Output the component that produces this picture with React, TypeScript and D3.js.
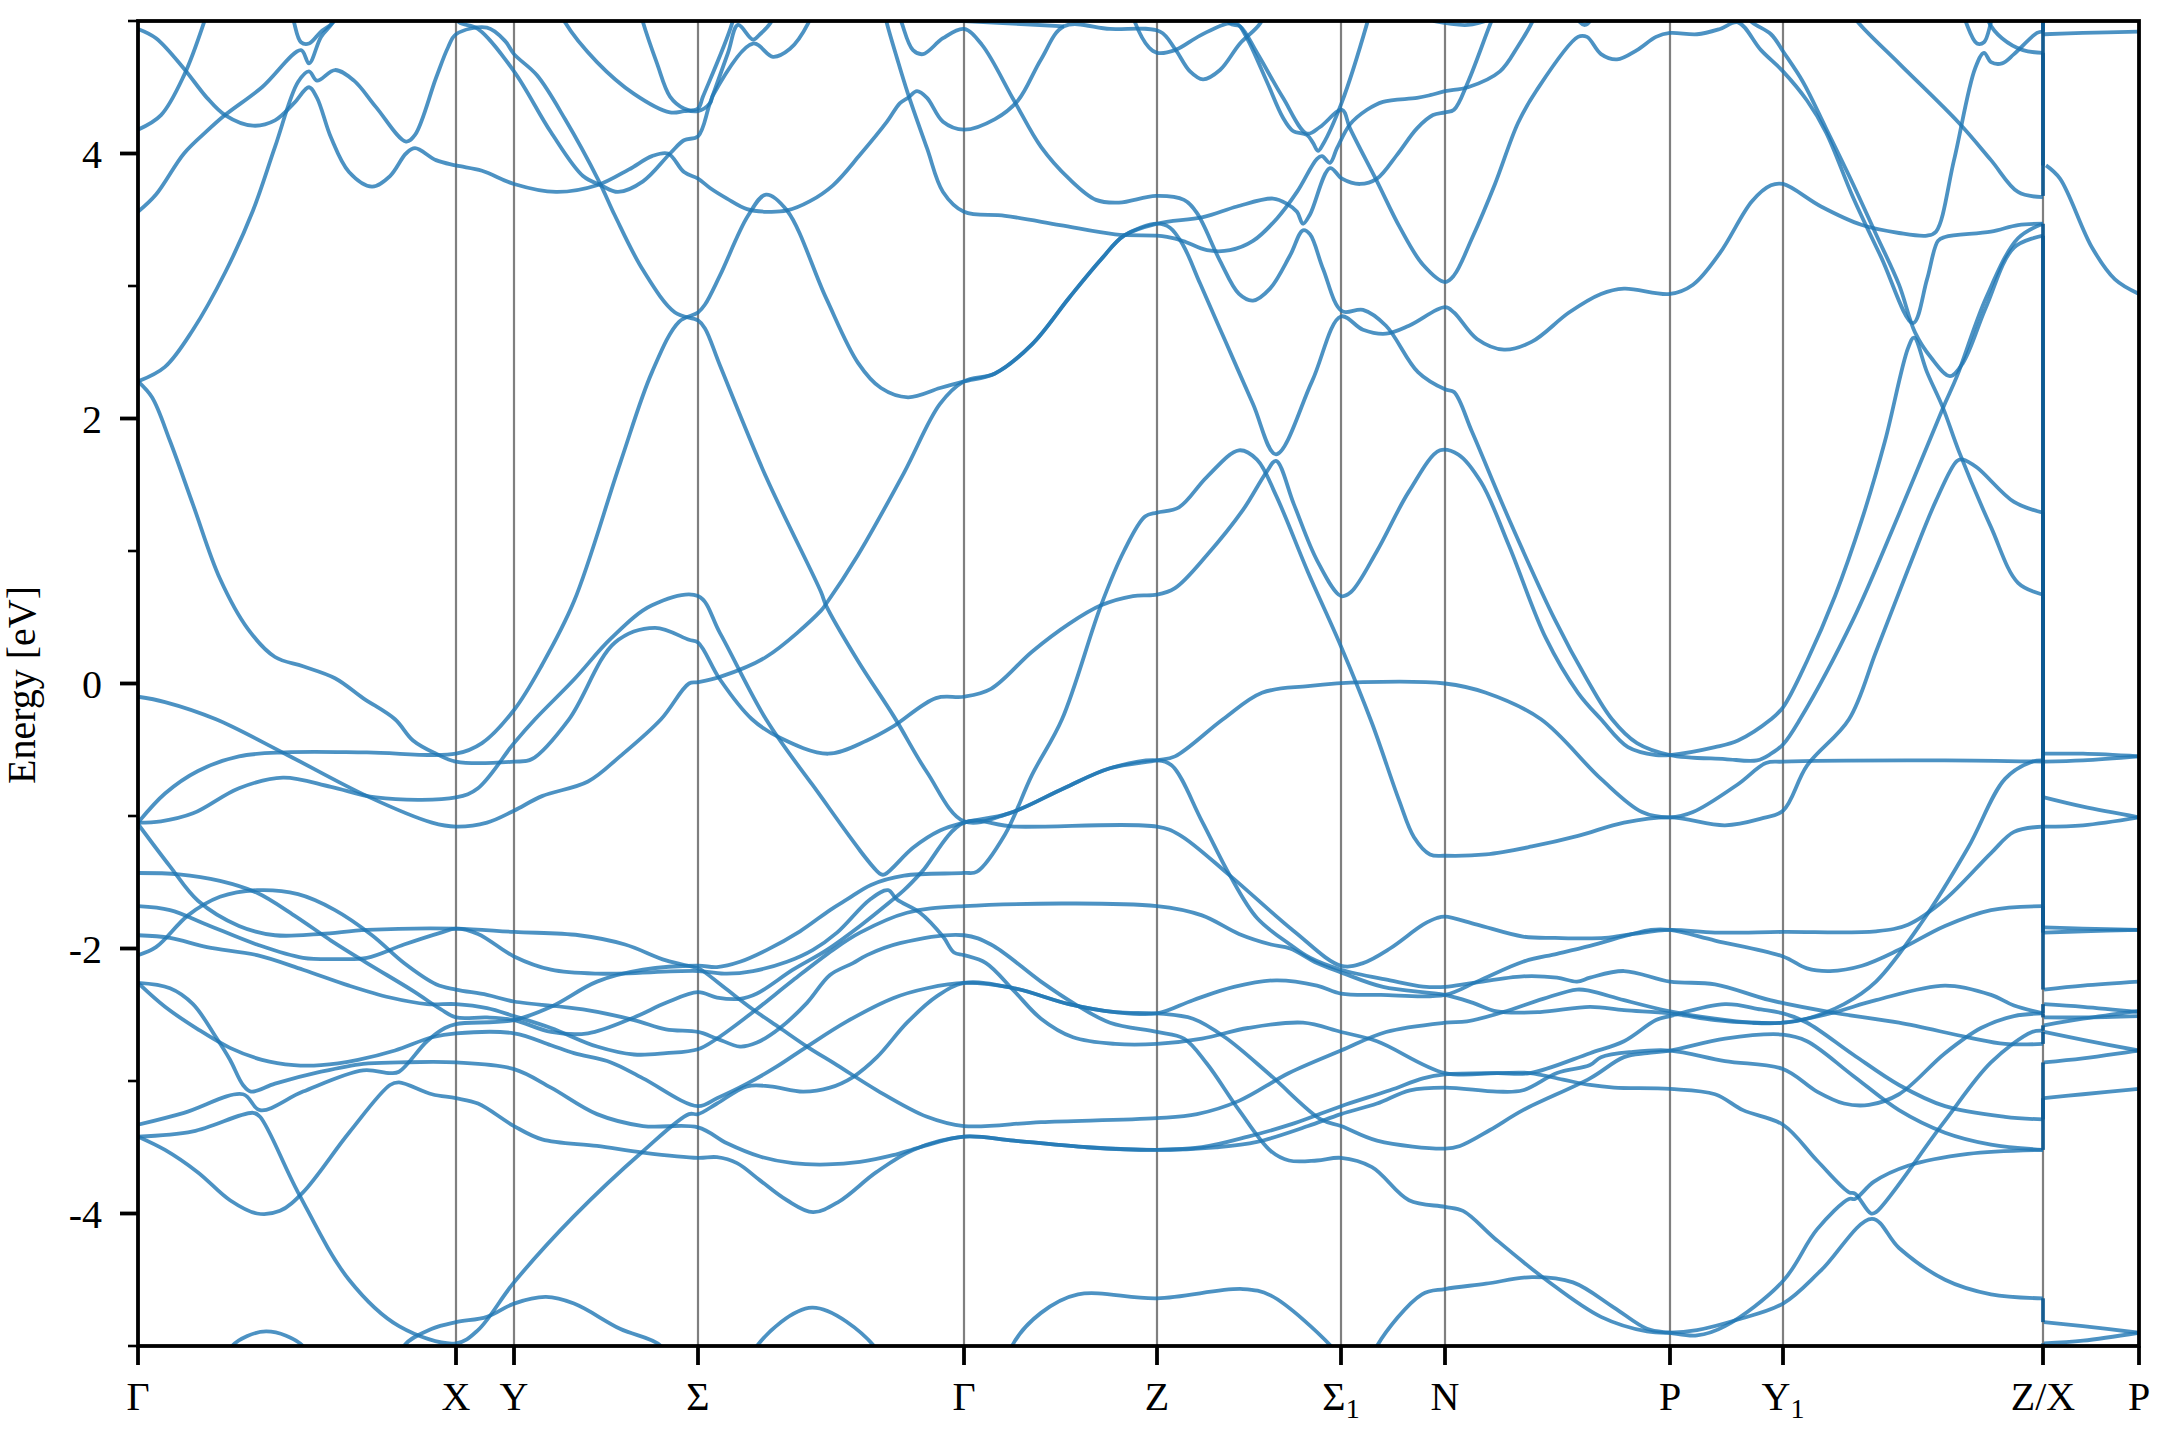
import React from "react";
import * as d3 from "d3";

type P = [number, number];
const kTicks = [0, 318, 376, 560, 826, 1019, 1203, 1307, 1532, 1645, 1905, 2001];
const kLabels = ["Γ", "X", "Y", "Σ", "Γ", "Z", "Σ|1", "N", "P", "Y|1", "Z/X", "P"];
const eMajor = [-4, -2, 0, 2, 4];
const eMinor = [-5, -3, -1, 1, 3, 5];

const band01: P[] = [[0,4.94],[18,4.87],[46,4.64],[69,4.42],[87,4.29],[115,4.21],[137,4.25],[156,4.38],[171,4.5],[179,4.42],[193,4.12],[211,3.86],[234,3.75],[252,3.83],[268,4],[277,4.04],[298,3.95],[318,3.91],[344,3.87],[376,3.77],[418,3.71],[459,3.76],[491,3.88],[514,3.98],[530,4],[546,3.86],[560,3.81],[572,3.74],[589,3.66],[609,3.58],[629,3.56],[649,3.57],[672,3.64],[695,3.76],[722,3.99],[749,4.24],[762,4.38],[770,4.42],[779,4.47],[789,4.42],[805,4.24],[826,4.18],[857,4.26],[880,4.4],[903,4.71],[926,4.96],[972,4.94],[1022,4.92],[1037,4.79],[1052,4.62],[1065,4.56],[1082,4.63],[1102,4.83],[1122,4.98],[1135,5.2]];
const band02: P[] = [[0,4.18],[23,4.29],[46,4.59],[66,4.99],[78,5.3]];
const band03: P[] = [[0,3.56],[18,3.69],[46,4],[69,4.17],[87,4.29],[124,4.5],[163,4.78],[171,4.68],[183,4.88],[195,4.99],[205,5.15]];
const band04: P[] = [[0,2.28],[27,2.39],[55,2.67],[87,3.1],[115,3.57],[137,4.05],[160,4.54],[171,4.62],[179,4.55],[197,4.63],[216,4.55],[238,4.35],[268,4.09],[277,4.14],[298,4.57],[310,4.8],[318,4.9],[349,4.95],[367,4.85],[376,4.75],[399,4.59],[427,4.26],[461,3.79],[477,3.53],[505,3.12],[537,2.8],[560,2.74],[567,2.68],[582,2.4],[628,1.56],[683,0.69],[688,0.59],[720,0.17],[756,-0.25],[789,-0.67],[826,-1.04],[871,-0.98],[926,-0.79],[972,-0.64],[1019,-0.58],[1037,-0.55],[1085,-0.27],[1124,-0.07],[1170,-0.02],[1225,0.01],[1307,0],[1348,-0.07],[1403,-0.27],[1463,-0.72],[1504,-0.97],[1532,-1.01],[1555,-0.97],[1600,-0.76],[1628,-0.6],[1645,-0.59],[1807,-0.58],[1905,-0.59]];
const band05: P[] = [[150,5.2],[156,4.99],[163,4.84],[171,4.83],[183,4.92],[195,4.99],[205,5.15]];
const band06: P[] = [[310,5.1],[321,4.99],[340,4.94],[376,4.62],[413,4.16],[445,3.83],[463,3.76],[480,3.71],[505,3.79],[532,4],[546,4.1],[560,4.13],[572,4.38],[590,4.76],[600,4.97],[615,4.86],[622,4.9],[632,4.98],[640,5.1]];
const band07: P[] = [[415,5.2],[427,4.99],[459,4.69],[496,4.45],[532,4.31],[546,4.32],[560,4.34],[565,4.43],[594,4.98],[600,5.2]];
const band08: P[] = [[498,5.2],[505,4.99],[519,4.68],[532,4.43],[546,4.34],[560,4.32],[572,4.38],[575,4.44],[615,4.83],[635,4.73],[652,4.79],[670,4.98],[678,5.15]];
const band09: P[] = [[0,-0.1],[27,-0.14],[78,-0.27],[147,-0.53],[229,-0.85],[294,-1.05],[318,-1.08],[349,-1.05],[376,-0.96],[404,-0.85],[450,-0.74],[482,-0.55],[523,-0.27],[551,0],[560,0.01],[582,0.05],[628,0.2],[683,0.55],[688,0.6],[720,0.97],[766,1.59],[802,2.11],[826,2.28],[857,2.34],[894,2.56],[931,2.91],[963,3.2],[986,3.38],[1019,3.47],[1065,3.52],[1099,3.6],[1135,3.66],[1149,3.62],[1159,3.56],[1165,3.47],[1172,3.54],[1192,3.89],[1204,3.81],[1222,3.77],[1239,3.81],[1259,3.99],[1279,4.19],[1295,4.29],[1307,4.31],[1316,4.33],[1330,4.54],[1353,4.99],[1365,5.2]];
const band10: P[] = [[0,2.28],[14,2.16],[32,1.83],[55,1.35],[82,0.79],[110,0.41],[137,0.2],[165,0.13],[197,0.04],[225,-0.11],[257,-0.27],[275,-0.43],[298,-0.53],[318,-0.59],[376,-0.59],[394,-0.57],[431,-0.27],[477,0.31],[517,0.42],[551,0.33],[560,0.31],[582,0.03],[614,-0.27],[642,-0.41],[690,-0.53],[729,-0.43],[754,-0.33],[798,-0.11],[826,-0.1],[853,-0.04],[894,0.24],[931,0.45],[963,0.59],[995,0.66],[1019,0.67],[1037,0.72],[1069,0.97],[1105,1.31],[1128,1.59],[1138,1.68],[1156,1.35],[1179,0.93],[1203,0.66],[1213,0.69],[1239,1],[1271,1.45],[1302,1.76],[1320,1.73],[1343,1.52],[1371,1.04],[1408,0.34],[1440,-0.07],[1463,-0.27],[1490,-0.48],[1518,-0.54],[1532,-0.54],[1577,-0.48],[1600,-0.43],[1633,-0.27],[1645,-0.18],[1669,0.17],[1697,0.66],[1724,1.24],[1747,1.83],[1770,2.53],[1776,2.61],[1789,2.35],[1805,2.08],[1821,1.75],[1853,1.18],[1880,0.76],[1905,0.67]];
const band11: P[] = [[0,-1.05],[27,-0.83],[60,-0.66],[101,-0.55],[147,-0.52],[229,-0.52],[318,-0.53],[344,-0.45],[376,-0.2],[404,0.14],[436,0.62],[482,1.66],[514,2.35],[541,2.73],[560,2.8],[567,2.86],[582,3.08],[610,3.53],[628,3.69],[649,3.57],[688,2.91],[720,2.42],[743,2.23],[770,2.16],[802,2.23],[826,2.28],[857,2.34],[894,2.56],[931,2.91],[963,3.2],[986,3.38],[1019,3.47],[1032,3.44],[1045,3.31],[1062,3.02],[1087,2.59],[1115,2.11],[1138,1.73],[1174,2.28],[1203,2.77],[1225,2.67],[1248,2.64],[1271,2.7],[1307,2.84],[1316,2.8],[1339,2.6],[1366,2.52],[1394,2.58],[1431,2.8],[1463,2.94],[1486,2.98],[1532,2.94],[1555,3.01],[1582,3.25],[1614,3.64],[1633,3.76],[1645,3.77],[1683,3.6],[1724,3.46],[1761,3.4],[1789,3.38],[1798,3.41],[1816,3.95],[1837,4.64],[1846,4.76],[1853,4.69],[1864,4.68],[1876,4.75],[1899,4.91],[1905,4.92]];
const band12: P[] = [[0,-1.05],[23,-1.04],[55,-0.98],[101,-0.79],[145,-0.71],[193,-0.78],[238,-0.86],[318,-0.86],[340,-0.79],[376,-0.45],[397,-0.27],[436,0.03],[473,0.34],[514,0.59],[560,0.66],[582,0.38],[628,-0.27],[674,-0.76],[743,-1.44],[747,-1.44],[775,-1.24],[802,-1.11],[826,-1.05],[871,-0.98],[926,-0.79],[972,-0.64],[1019,-0.58],[1034,-0.62],[1064,-1.04],[1092,-1.45],[1119,-1.77],[1152,-1.97],[1172,-2.07],[1203,-2.16],[1252,-2.24],[1285,-2.287],[1307,-2.29],[1335,-2.26],[1385,-2.21],[1419,-2.22],[1439,-2.25],[1452,-2.22],[1486,-2.17],[1532,-2.25],[1577,-2.27],[1632,-2.39],[1692,-2.48],[1761,-2.56],[1830,-2.67],[1867,-2.72],[1905,-2.72]];
const band13: P[] = [[0,-1.43],[41,-1.44],[82,-1.49],[119,-1.58],[156,-1.75],[193,-1.94],[229,-2.11],[275,-2.32],[303,-2.46],[318,-2.52],[349,-2.52],[376,-2.54],[413,-2.63],[450,-2.64],[496,-2.52],[528,-2.41],[560,-2.33],[579,-2.37],[602,-2.38],[619,-2.34],[655,-2.16],[689,-2.01],[722,-1.83],[755,-1.63],[766,-1.56],[784,-1.42],[826,-1.05],[876,-1.08],[1019,-1.08],[1041,-1.14],[1092,-1.45],[1156,-1.87],[1203,-2.13],[1225,-2.11],[1252,-2],[1285,-1.82],[1299,-1.77],[1307,-1.76],[1339,-1.82],[1385,-1.91],[1417,-1.92],[1467,-1.92],[1495,-1.89],[1532,-1.86],[1577,-1.88],[1645,-1.875],[1738,-1.87],[1770,-1.82],[1807,-1.63],[1853,-1.28],[1876,-1.12],[1905,-1.08]];
const band14: P[] = [[0,-1.06],[32,-1.38],[60,-1.64],[101,-1.83],[137,-1.9],[183,-1.89],[229,-1.86],[318,-1.85],[376,-1.875],[441,-1.9],[487,-1.97],[528,-2.09],[560,-2.15],[565,-2.17],[589,-2.31],[615,-2.46],[642,-2.6],[669,-2.74],[699,-2.88],[739,-3.07],[789,-3.27],[826,-3.34],[903,-3.31],[1019,-3.28],[1059,-3.25],[1101,-3.15],[1151,-2.94],[1203,-2.77],[1248,-2.63],[1307,-2.56],[1329,-2.55],[1365,-2.48],[1405,-2.38],[1439,-2.31],[1452,-2.32],[1486,-2.39],[1532,-2.475],[1577,-2.53],[1614,-2.56],[1645,-2.56],[1692,-2.49],[1738,-2.39],[1807,-2.28],[1853,-2.35],[1876,-2.43],[1905,-2.49]];
const band15: P[] = [[0,-2.05],[18,-1.99],[50,-1.75],[82,-1.61],[119,-1.56],[160,-1.59],[197,-1.71],[234,-1.9],[266,-2.11],[298,-2.27],[318,-2.31],[349,-2.35],[376,-2.4],[445,-2.46],[496,-2.54],[528,-2.61],[560,-2.63],[579,-2.68],[602,-2.74],[619,-2.71],[642,-2.6],[669,-2.41],[692,-2.2],[715,-2.11],[729,-2.05],[762,-1.96],[826,-1.9],[853,-1.97],[903,-2.25],[935,-2.41],[972,-2.56],[1019,-2.63],[1046,-2.68],[1069,-2.87],[1101,-3.22],[1133,-3.53],[1151,-3.6],[1179,-3.6],[1203,-3.58],[1234,-3.65],[1271,-3.9],[1307,-3.95],[1325,-3.98],[1357,-4.19],[1408,-4.5],[1463,-4.78],[1509,-4.89],[1532,-4.9],[1559,-4.88],[1600,-4.8],[1645,-4.68],[1683,-4.43],[1734,-4.04],[1761,-4.26],[1807,-4.5],[1853,-4.61],[1905,-4.64]];
const band16: P[] = [[0,-1.68],[32,-1.71],[69,-1.82],[119,-1.97],[165,-2.07],[202,-2.08],[229,-2.07],[266,-1.97],[303,-1.88],[318,-1.85],[340,-1.89],[376,-2.06],[413,-2.16],[459,-2.19],[560,-2.17],[589,-2.19],[615,-2.17],[649,-2.1],[675,-2.01],[699,-1.88],[732,-1.63],[750,-1.56],[759,-1.63],[782,-1.73],[805,-1.91],[816,-2.03],[826,-2.05],[848,-2.11],[876,-2.32],[903,-2.53],[935,-2.67],[977,-2.72],[1019,-2.72],[1064,-2.68],[1110,-2.6],[1165,-2.56],[1203,-2.63],[1239,-2.7],[1307,-2.94],[1359,-2.94],[1392,-2.94],[1425,-2.99],[1452,-3.03],[1476,-3.05],[1532,-3.06],[1577,-3.1],[1605,-3.22],[1645,-3.33],[1679,-3.6],[1711,-3.84],[1717,-3.85],[1733,-4],[1738,-3.99],[1805,-3.32],[1853,-2.86],[1894,-2.63],[1905,-2.62]];
const band17: P[] = [[0,-3.33],[46,-3.24],[105,-3.1],[122,-3.22],[165,-3.08],[225,-2.92],[252,-2.94],[261,-2.93],[289,-2.7],[307,-2.6],[318,-2.57],[376,-2.54],[413,-2.44],[459,-2.25],[505,-2.16],[560,-2.13],[579,-2.14],[602,-2.1],[629,-2.01],[662,-1.87],[692,-1.71],[709,-1.63],[733,-1.52],[766,-1.45],[826,-1.43],[839,-1.42],[867,-1.14],[894,-0.69],[924,-0.27],[963,0.59],[986,1],[1007,1.26],[1019,1.29],[1041,1.33],[1069,1.56],[1101,1.76],[1119,1.69],[1138,1.42],[1170,0.84],[1203,0.28],[1234,-0.3],[1261,-0.88],[1276,-1.16],[1292,-1.29],[1307,-1.3],[1348,-1.29],[1394,-1.23],[1440,-1.15],[1486,-1.05],[1532,-1.01],[1587,-1.07],[1623,-1.02],[1645,-0.96],[1669,-0.62],[1711,-0.27],[1738,0.24],[1770,0.86],[1798,1.38],[1819,1.68],[1825,1.69],[1839,1.63],[1876,1.37],[1905,1.29]];
const band18: P[] = [[0,-1.9],[32,-1.92],[69,-1.99],[119,-2.05],[165,-2.16],[211,-2.28],[252,-2.37],[289,-2.42],[318,-2.42],[349,-2.45],[376,-2.51],[413,-2.6],[459,-2.74],[496,-2.8],[528,-2.79],[560,-2.76],[579,-2.68],[615,-2.48],[655,-2.24],[695,-2.01],[722,-1.88],[769,-1.73],[826,-1.68],[1019,-1.68],[1064,-1.75],[1101,-1.89],[1133,-1.97],[1152,-2],[1179,-2.11],[1203,-2.18],[1245,-2.29],[1307,-2.35],[1335,-2.41],[1359,-2.475],[1402,-2.48],[1452,-2.44],[1486,-2.465],[1532,-2.49],[1577,-2.54],[1614,-2.56],[1645,-2.56],[1669,-2.53],[1706,-2.42],[1738,-2.25],[1784,-1.8],[1830,-1.24],[1867,-0.72],[1894,-0.59],[1905,-0.58]];
const band19: P[] = [[0,-2.26],[32,-2.3],[55,-2.42],[78,-2.67],[92,-2.84],[105,-3.03],[113,-3.08],[137,-3.02],[183,-2.93],[225,-2.87],[261,-2.86],[318,-2.86],[376,-2.91],[413,-3.05],[459,-3.25],[505,-3.34],[560,-3.35],[589,-3.47],[622,-3.57],[655,-3.62],[689,-3.63],[722,-3.61],[755,-3.56],[782,-3.5],[826,-3.42],[876,-3.45],[949,-3.5],[1019,-3.52],[1064,-3.5],[1110,-3.42],[1156,-3.32],[1203,-3.19],[1252,-3.07],[1285,-2.98],[1307,-2.95],[1359,-2.94],[1392,-2.94],[1452,-2.79],[1486,-2.7],[1518,-2.54],[1532,-2.51],[1587,-2.42],[1623,-2.46],[1645,-2.49],[1669,-2.56],[1715,-2.8],[1761,-3.03],[1807,-3.19],[1867,-3.27],[1905,-3.29]];
const band20: P[] = [[0,-2.26],[27,-2.44],[60,-2.61],[92,-2.75],[124,-2.84],[156,-2.88],[183,-2.88],[220,-2.84],[257,-2.77],[294,-2.67],[318,-2.64],[376,-2.64],[413,-2.73],[436,-2.79],[473,-2.86],[505,-2.98],[560,-3.19],[579,-3.13],[609,-3.02],[639,-2.89],[669,-2.74],[709,-2.55],[755,-2.375],[789,-2.3],[826,-2.26],[876,-2.3],[931,-2.42],[977,-2.48],[1019,-2.49],[1055,-2.39],[1096,-2.29],[1138,-2.24],[1179,-2.28],[1203,-2.34],[1243,-2.35],[1307,-2.35],[1339,-2.25],[1385,-2.1],[1419,-2.04],[1452,-1.98],[1513,-1.86],[1532,-1.86],[1577,-1.94],[1645,-2.06],[1669,-2.15],[1692,-2.17],[1724,-2.13],[1761,-2.01],[1807,-1.83],[1853,-1.71],[1905,-1.68]];
const band21: P[] = [[0,-3.42],[55,-3.38],[115,-3.24],[122,-3.27],[160,-3.84],[211,-4.5],[261,-4.85],[318,-4.98],[340,-4.88],[376,-4.52],[436,-4.02],[505,-3.53],[551,-3.25],[560,-3.25],[579,-3.17],[609,-3.04],[632,-3.04],[665,-3.08],[692,-3.05],[715,-2.97],[739,-2.82],[769,-2.56],[799,-2.36],[826,-2.26],[876,-2.3],[931,-2.42],[977,-2.48],[1019,-2.49],[1055,-2.53],[1087,-2.67],[1133,-2.96],[1183,-3.29],[1203,-3.34],[1239,-3.45],[1307,-3.51],[1322,-3.49],[1352,-3.37],[1385,-3.22],[1452,-2.98],[1486,-2.82],[1509,-2.79],[1532,-2.77],[1587,-2.68],[1645,-2.65],[1669,-2.7],[1715,-2.96],[1761,-3.22],[1807,-3.39],[1853,-3.48],[1905,-3.52]];
const band22: P[] = [[0,-3.42],[27,-3.52],[60,-3.69],[92,-3.9],[119,-4],[142,-3.98],[165,-3.84],[211,-3.39],[252,-3.03],[261,-3.01],[294,-3.1],[318,-3.13],[340,-3.17],[376,-3.34],[404,-3.44],[459,-3.49],[505,-3.54],[560,-3.58],[579,-3.575],[599,-3.62],[622,-3.75],[649,-3.9],[675,-3.99],[701,-3.91],[738,-3.69],[775,-3.52],[826,-3.42],[876,-3.45],[949,-3.5],[1019,-3.52],[1078,-3.5],[1119,-3.46],[1170,-3.34],[1203,-3.25],[1239,-3.17],[1272,-3.07],[1307,-3.05],[1359,-3.08],[1385,-3.07],[1419,-2.94],[1452,-2.88],[1463,-2.82],[1495,-2.78],[1532,-2.77],[1587,-2.85],[1645,-2.91],[1679,-3.08],[1706,-3.17],[1731,-3.18],[1761,-3.1],[1807,-2.79],[1843,-2.6],[1876,-2.51],[1905,-2.49]];
const band23: P[] = [[255,-5.3],[266,-5],[294,-4.87],[318,-4.82],[349,-4.78],[376,-4.68],[408,-4.63],[436,-4.68],[482,-4.87],[523,-5],[535,-5.2]];
const band24: P[] = [[85,-5.2],[94,-5],[128,-4.89],[165,-5],[175,-5.2]];
const band25: P[] = [[610,-5.2],[619,-5],[674,-4.71],[736,-5],[746,-5.2]];
const band26: P[] = [[865,-5.3],[874,-5],[903,-4.75],[940,-4.61],[1019,-4.64],[1105,-4.57],[1133,-4.62],[1193,-5],[1203,-5.1]];
const band27: P[] = [[1230,-5.2],[1239,-5],[1284,-4.61],[1307,-4.57],[1348,-4.53],[1394,-4.48],[1435,-4.52],[1476,-4.71],[1509,-4.87],[1532,-4.9],[1559,-4.92],[1587,-4.85],[1645,-4.51],[1679,-4.12],[1711,-3.89],[1717,-3.89],[1736,-3.76],[1770,-3.64],[1830,-3.55],[1905,-3.52]];
const band28: P[] = [[742,5.2],[749,4.98],[759,4.72],[770,4.45],[789,4.04],[805,3.71],[826,3.56],[867,3.53],[922,3.46],[977,3.39],[1019,3.38],[1029,3.37],[1045,3.34],[1069,3.27],[1092,3.27],[1115,3.34],[1139,3.51],[1159,3.71],[1179,3.96],[1184,3.98],[1192,3.93],[1199,4.04],[1212,4.22],[1229,4.33],[1245,4.39],[1279,4.42],[1292,4.44],[1307,4.47],[1330,4.5],[1362,4.62],[1380,4.81],[1394,4.99],[1405,5.2]];
const band29: P[] = [[756,5.2],[764,4.98],[775,4.78],[785,4.75],[805,4.87],[826,4.94],[844,4.82],[876,4.4],[903,4.05],[931,3.81],[958,3.65],[981,3.63],[1018,3.68],[1046,3.65],[1059,3.55],[1082,3.19],[1101,2.94],[1115,2.89],[1132,2.98],[1152,3.23],[1165,3.42],[1172,3.39],[1185,3.13],[1204,2.81],[1225,2.82],[1248,2.7],[1280,2.35],[1307,2.22],[1316,2.2],[1334,1.9],[1371,1.24],[1417,0.48],[1449,0.03],[1474,-0.27],[1499,-0.45],[1532,-0.54],[1587,-0.57],[1619,-0.58],[1633,-0.53],[1645,-0.46],[1662,-0.27],[1715,0.48],[1761,1.28],[1805,2.08],[1819,2.32],[1848,2.91],[1880,3.36],[1905,3.47]];
const band30: P[] = [[700,5.05],[826,5],[926,4.96]];
const band31: P[] = [[990,5.2],[997,4.99],[1011,4.8],[1019,4.76],[1037,4.78],[1062,4.89],[1089,4.98],[1099,4.98],[1109,4.87],[1129,4.54],[1145,4.27],[1155,4.17],[1169,4.14],[1175,4.08],[1180,4.02],[1185,4.07],[1204,4.39],[1229,4.98],[1240,5.3]];
const band32: P[] = [[1080,5.2],[1092,4.98],[1102,4.96],[1119,4.76],[1145,4.42],[1169,4.15],[1182,4.2],[1204,4.33],[1212,4.19],[1239,3.79],[1262,3.44],[1285,3.16],[1307,3.03],[1316,3.08],[1334,3.36],[1357,3.77],[1380,4.23],[1398,4.47],[1440,4.88],[1449,4.88],[1463,4.75],[1479,4.71],[1499,4.78],[1518,4.88],[1532,4.91],[1559,4.9],[1582,4.94],[1600,4.99],[1623,4.78],[1645,4.62],[1669,4.4],[1688,4.16],[1715,3.67],[1743,3.22],[1775,2.72],[1789,3.05],[1800,3.34],[1807,3.37],[1853,3.41],[1880,3.46],[1905,3.47]];
const band33: P[] = [[1600,5.1],[1614,4.99],[1633,4.9],[1646,4.76],[1665,4.54],[1688,4.19],[1715,3.77],[1738,3.39],[1761,3.01],[1777,2.65],[1793,2.46],[1812,2.32],[1825,2.42],[1848,2.84],[1876,3.29],[1905,3.38]];
const band34: P[] = [[1295,5],[1330,4.97],[1355,5.02]];
const band35: P[] = [[1436,5.1],[1442,4.99],[1447,4.97],[1452,5],[1458,5.1]];
const band36: P[] = [[1700,5.2],[1720,4.99],[1761,4.68],[1821,4.23],[1853,3.95],[1880,3.71],[1905,3.67]];
const band37: P[] = [[1820,5.2],[1828,4.99],[1839,4.83],[1846,4.84],[1853,4.99],[1860,5.2]];
const band38: P[] = [[1845,5.2],[1851,4.99],[1864,4.87],[1885,4.78],[1905,4.76]];

const tail01: P[] = [[1906,4.9],[1945,4.91],[2001,4.92]];
const tail02: P[] = [[1908,3.91],[1922,3.81],[1954,3.29],[1977,3.05],[2001,2.94]];
const tail03: P[] = [[1906,-0.53],[1945,-0.53],[2001,-0.55]];
const tail04: P[] = [[1906,-0.59],[1945,-0.58],[2001,-0.55]];
const tail05: P[] = [[1906,-0.86],[1945,-0.93],[2001,-1.01]];
const tail06: P[] = [[1906,-1.08],[1945,-1.07],[2001,-1.01]];
const tail07: P[] = [[1906,-1.84],[1945,-1.85],[2001,-1.86]];
const tail08: P[] = [[1906,-1.88],[1945,-1.87],[2001,-1.86]];
const tail09: P[] = [[1906,-2.31],[1945,-2.28],[2001,-2.25]];
const tail10: P[] = [[1906,-2.42],[1945,-2.44],[2001,-2.48]];
const tail11: P[] = [[1906,-2.52],[1945,-2.52],[2001,-2.51]];
const tail12: P[] = [[1906,-2.58],[1945,-2.53],[2001,-2.47]];
const tail13: P[] = [[1906,-2.63],[1945,-2.69],[2001,-2.77]];
const tail14: P[] = [[1906,-2.86],[1945,-2.83],[2001,-2.77]];
const tail15: P[] = [[1906,-3.13],[1945,-3.1],[2001,-3.06]];
const tail16: P[] = [[1906,-4.82],[1945,-4.85],[2001,-4.9]];
const tail17: P[] = [[1906,-4.98],[1945,-4.96],[2001,-4.9]];

// Band energies joined at the Z/X discontinuity: [energy at Z, energy at X]
const jumps: P[] = [[4.92,5.3],[4.76,3.91],[3.68,5.2],[3.47,-0.53],[3.38,-0.59],[1.29,-0.86],[0.67,-1.08],[-0.58,-1.84],[-1.08,-1.88],[-1.68,-2.31],[-2.42,-2.49],[-2.49,-2.52],[-2.58,-2.62],[-2.63,-2.72],[-2.86,-3.29],[-3.13,-3.52],[-4.64,-4.82],[-4.98,-5.3]];

const bands = [band01,band02,band03,band04,band05,band06,band07,band08,band09,band10,band11,band12,band13,band14,band15,band16,band17,band18,band19,band20,band21,band22,band23,band24,band25,band26,band27,band28,band29,band30,band31,band32,band33,band34,band35,band36,band37,band38,tail01,tail02,tail03,tail04,tail05,tail06,tail07,tail08,tail09,tail10,tail11,tail12,tail13,tail14,tail15,tail16,tail17];

const FONT = '"Liberation Serif", "Times New Roman", serif';
const BLUE = "#1f77b4";

export default function App() {
  const x = d3.scaleLinear().domain([0, 2001]).range([138, 2139]);
  const y = d3.scaleLinear().domain([-5, 5]).range([1346, 21]);
  const line = d3.line<P>().x((d) => x(d[0])).y((d) => y(d[1])).curve(d3.curveCatmullRom.alpha(0.5));
  const xJump = x(1905);
  return (
    <svg width={2160} height={1440} viewBox="0 0 2160 1440" style={{ position: "absolute", left: 0, top: 0, background: "#fff" }} fontFamily={FONT}>
      <defs>
        <clipPath id="plot"><rect x={138} y={21} width={2001} height={1325} /></clipPath>
      </defs>
      <g clipPath="url(#plot)">
        {kTicks.slice(1, -1).map((k, i) => (
          <line key={i} x1={x(k)} x2={x(k)} y1={21} y2={1346} stroke="#000" strokeOpacity={0.5} strokeWidth={2.2} />
        ))}
        {bands.map((b, i) => (
          <path key={i} d={line(b) ?? ""} fill="none" stroke={BLUE} strokeOpacity={0.8} strokeWidth={3.8} strokeLinejoin="round" />
        ))}
        {jumps.map((j, i) => (
          <line key={i} x1={xJump} x2={xJump} y1={y(j[0])} y2={y(j[1])} stroke="#0d5a92" strokeOpacity={0.9} strokeWidth={3.8} />
        ))}
      </g>
      <rect x={138} y={21} width={2001} height={1325} fill="none" stroke="#000" strokeWidth={3.8} />
      {eMajor.map((e) => (
        <g key={e}>
          <line x1={120} x2={138} y1={y(e)} y2={y(e)} stroke="#000" strokeWidth={3.8} />
          <text x={102} y={y(e) + 14} fontSize={40} textAnchor="end" fill="#000">{e}</text>
        </g>
      ))}
      {eMinor.map((e) => (
        <line key={e} x1={128} x2={138} y1={y(e)} y2={y(e)} stroke="#000" strokeWidth={2.6} />
      ))}
      {kTicks.map((k, i) => {
        const [main, sub] = kLabels[i].split("|");
        return (
          <g key={i}>
            <line x1={x(k)} x2={x(k)} y1={1346} y2={1365} stroke="#000" strokeWidth={3.8} />
            <text x={x(k)} y={1410} fontSize={40} textAnchor="middle" fill="#000">
              {main}
              {sub ? <tspan fontSize={28} dy={8}>{sub}</tspan> : null}
            </text>
          </g>
        );
      })}
      <text transform="translate(34.5,685) rotate(-90)" fontSize={40} textAnchor="middle" fill="#000">Energy [eV]</text>
    </svg>
  );
}
